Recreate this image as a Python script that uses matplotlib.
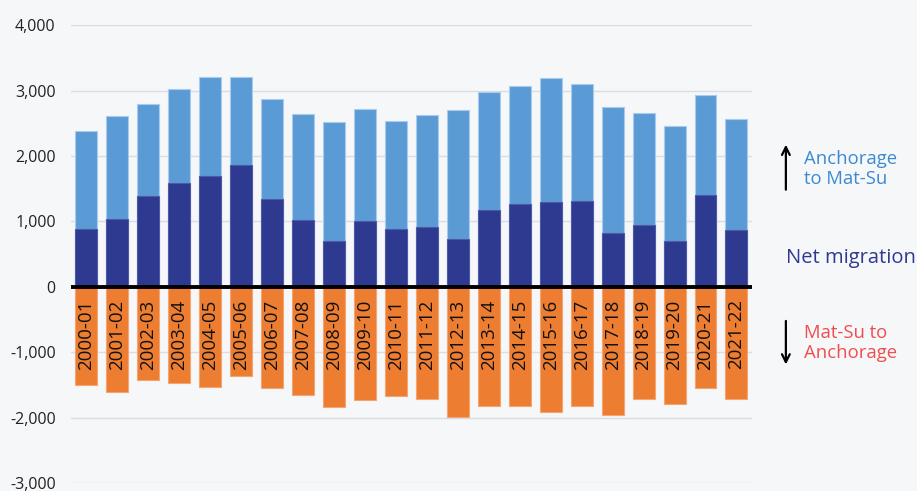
import matplotlib.pyplot as plt
import numpy as np

plt.rcParams['font.family'] = ['Open Sans', 'DejaVu Sans']

# migration years
years = ['2000-01', '2001-02', '2002-03', '2003-04', '2004-05', '2005-06',
         '2006-07', '2007-08', '2008-09', '2009-10', '2010-11', '2011-12',
         '2012-13', '2013-14', '2014-15', '2015-16', '2016-17', '2017-18',
         '2018-19', '2019-20', '2020-21', '2021-22']
# Anchorage -> Mat-Su
anc_to_matsu = [2380, 2610, 2790, 3030, 3200, 3200, 2870, 2640, 2520, 2710, 2535,
                2620, 2705, 2970, 3065, 3190, 3095, 2755, 2655, 2455, 2925, 2565]
# Mat-Su -> Anchorage (negative)
matsu_to_anc = [-1505, -1610, -1425, -1475, -1535, -1365, -1550, -1645, -1840, -1735, -1670,
                -1720, -1995, -1820, -1825, -1910, -1815, -1955, -1720, -1785, -1545, -1715]
# net migration
net = [890, 1030, 1385, 1580, 1690, 1865, 1345, 1015, 700, 1000, 880,
       920, 735, 1175, 1260, 1295, 1305, 820, 950, 695, 1400, 870]

bg = '#f6f7f9'
fig = plt.figure(figsize=(9.17, 4.91), dpi=100, facecolor=bg)
ax = fig.add_axes([0.0774, 0.0157, 0.7426, 0.9333], facecolor=bg)

x = np.arange(len(years))
w = 0.71
ax.bar(x, anc_to_matsu, w, color='#5b9bd5', edgecolor='#a9cbec', linewidth=0.8, zorder=2)
ax.bar(x, net, w, color='#2e3a8f', edgecolor='#4f5aa6', linewidth=0.8, zorder=3)
ax.bar(x, matsu_to_anc, w, color='#ed7d31', edgecolor='#f5a572', linewidth=0.8, zorder=2)

ax.set_xlim(-0.5, len(years) - 0.5)
ax.set_ylim(-3000, 4000)
ax.set_yticks(range(-3000, 4001, 1000))
ax.set_yticklabels(['{:,}'.format(v) for v in range(-3000, 4001, 1000)])
ax.tick_params(axis='y', length=0, pad=11, labelsize=11.5, labelcolor='#222222')
ax.set_xticks([])
for v in range(-3000, 4001, 1000):
    if v != 0:
        ax.axhline(v, color='#dcdde1', linewidth=1, zorder=1)
ax.axhline(0, color='black', linewidth=2.8, zorder=4)
for s in ax.spines.values():
    s.set_visible(False)

for i, lab in enumerate(years):
    ax.annotate(lab, (i, 0), xytext=(0, -9), textcoords='offset points',
                rotation=90, ha='center', va='top', fontsize=13.5, color='#111111', zorder=5)

# legend text on the right
fig.text(0.877, 0.655, 'Anchorage\nto Mat-Su', color='#3c8ad0', fontsize=13.3,
         ha='left', va='center', linespacing=1.15)
fig.text(0.857, 0.475, 'Net migration', color='#2e3a8f', fontsize=14.5,
         ha='left', va='center')
fig.text(0.877, 0.302, 'Mat-Su to\nAnchorage', color='#f04e4e', fontsize=13.3,
         ha='left', va='center', linespacing=1.15)
fig.patches.append(plt.matplotlib.patches.FancyArrowPatch(
    (0.857, 0.608), (0.857, 0.711), transform=fig.transFigure,
    arrowstyle='->', mutation_scale=14, color='black', linewidth=1.6))
fig.patches.append(plt.matplotlib.patches.FancyArrowPatch(
    (0.857, 0.352), (0.857, 0.252), transform=fig.transFigure,
    arrowstyle='->', mutation_scale=14, color='black', linewidth=1.6))

fig.savefig('out.png', dpi=100, facecolor=bg)
